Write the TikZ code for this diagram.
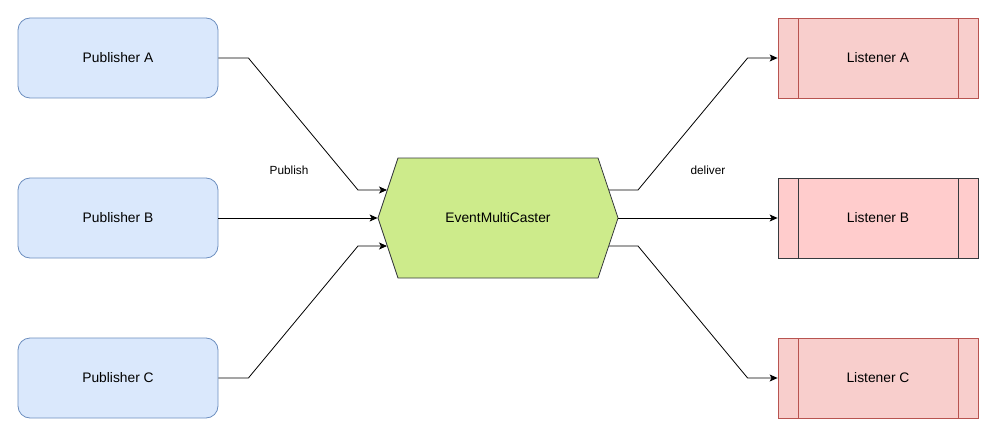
\documentclass[tikz,border=0pt]{standalone}
\usepackage{fontspec}
\setmainfont{Liberation Sans}
\usetikzlibrary{shapes.symbols,arrows.meta}
\definecolor{pubfill}{HTML}{DAE8FC}
\definecolor{publine}{HTML}{6C8EBF}
\definecolor{lisfill}{HTML}{F8CECC}
\definecolor{lisline}{HTML}{B85450}
\definecolor{lisfillB}{HTML}{FFCCCC}
\definecolor{darkline}{HTML}{36393D}
\definecolor{hubfill}{HTML}{CDEB8B}
\begin{document}
\begin{tikzpicture}[
        x=1pt, y=-1pt,
        font=\fontsize{13.8}{16}\selectfont,
        publisher/.style={rectangle, draw=publine, fill=pubfill, rounded corners=12pt, minimum width=200pt, minimum height=80pt, line width=0.8pt},
        listener/.style={rectangle, draw=#1, minimum width=200pt, minimum height=80pt, line width=0.8pt,
            path picture={\draw[#1, line width=0.8pt] ([xshift=20pt]path picture bounding box.north west) -- ([xshift=20pt]path picture bounding box.south west)
                ([xshift=-20pt]path picture bounding box.north east) -- ([xshift=-20pt]path picture bounding box.south east);}},
        caster/.style={signal, signal to=west and east, signal pointer angle=143.13, draw=darkline, fill=hubfill, minimum width=240pt, minimum height=120pt, inner sep=0pt, line width=0.8pt},
        arrow/.style={-{Stealth[length=8pt, width=7pt, inset=2pt]}, line width=0.8pt},
        lbl/.style={font=\fontsize{11.8}{14}\selectfont}
    ]
        \useasboundingbox (0,0) rectangle (1002,444);

        % Publishers
        \node[publisher] (pubA) at (118,58) {Publisher A};
        \node[publisher] (pubB) at (118,218) {Publisher B};
        \node[publisher] (pubC) at (118,378) {Publisher C};

        % Multicaster
        \node[caster] (hub) at (498,218) {EventMultiCaster};
        \coordinate (hubInA) at (387,190);
        \coordinate (hubInC) at (387,246);
        \coordinate (hubOutA) at (609,190);
        \coordinate (hubOutC) at (609,246);

        % Listeners
        \node[listener=lisline, fill=lisfill] (lisA) at (878,58) {Listener A};
        \node[listener=darkline, fill=lisfillB] (lisB) at (878,218) {Listener B};
        \node[listener=lisline, fill=lisfill] (lisC) at (878,378) {Listener C};

        % Arrows
        \draw[arrow] (pubA.east) -- ++(30,0) -- ([xshift=-29pt]hubInA) -- (hubInA);
        \draw[arrow] (pubB.east) -- (hub.west);
        \draw[arrow] (pubC.east) -- ++(30,0) -- ([xshift=-29pt]hubInC) -- (hubInC);
        \draw[arrow] (hubOutA) -- ++(29,0) -- ([xshift=-30pt]lisA.west) -- (lisA.west);
        \draw[arrow] (hub.east) -- (lisB.west);
        \draw[arrow] (hubOutC) -- ++(29,0) -- ([xshift=-30pt]lisC.west) -- (lisC.west);

        % Labels
        \node[lbl] (pubLabel) at (289,170) {Publish};
        \node[lbl] (delLabel) at (708,170) {deliver};
    \end{tikzpicture}
\end{document}
